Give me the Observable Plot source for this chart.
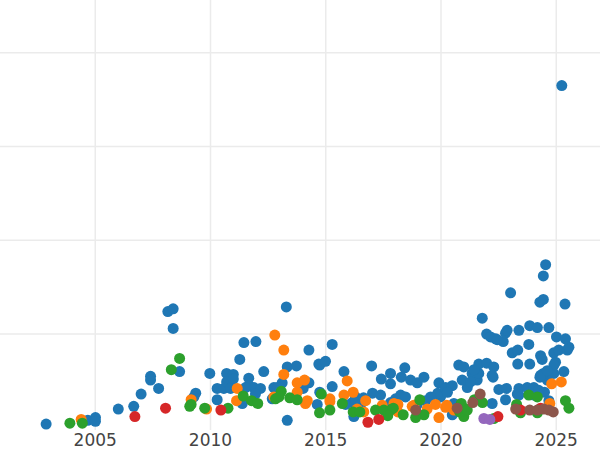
<!DOCTYPE html>
<html>
<head>
<meta charset="utf-8">
<script src="https://cdn.jsdelivr.net/npm/d3@7"></script>
<script src="https://cdn.jsdelivr.net/npm/@observablehq/plot@0.6"></script>
<style>
  html, body { margin: 0; padding: 0; background: #fff; }
</style>
</head>
<body>
<div id="chart"></div>
<script>
const seriesNames = ["A", "B", "C", "D", "E", "F"];
const seriesColors = ["#1f77b4", "#ff7f0e", "#2ca02c", "#d62728", "#9467bd", "#8c564b"];
const xTicks = [2005, 2010, 2015, 2020, 2025];
const yGrid = [1, 2, 3, 4];

const blueX = [2002.87,2004.68,2005.01,2005.01,2006.00,2006.67,2006.99,2007.40,2007.40,2007.75,2008.15,2008.38,2008.38,2008.66,2009.36,2009.28,2009.97,2010.29,2010.29,2010.58,2010.70,2010.70,2010.99,2010.99,2010.87,2011.27,2011.45,2011.97,2011.38,2011.66,2011.66,2011.88,2012.17,2011.52,2011.95,2012.31,2012.75,2012.68,2013.29,2013.33,2013.73,2013.11,2012.90,2013.01,2014.02,2014.27,2014.27,2013.33,2014.63,2014.70,2015.28,2014.74,2014.99,2015.28,2015.79,2016.99,2017.41,2017.81,2017.81,2018.28,2018.43,2018.68,2018.97,2019.26,2019.91,2020.20,2014.74,2016.15,2016.29,2016.22,2017.38,2017.81,2018.25,2018.97,2019.98,2019.86,2021.98,2022.37,2022.70,2022.80,2023.38,2023.09,2023.33,2023.81,2023.33,2023.85,2024.32,2024.39,2024.89,2024.97,2025.11,2025.48,2025.55,2025.01,2025.40,2024.89,2025.33,2024.32,2024.61,2024.44,2024.49,2024.68,2023.31,2023.38,2023.81,2024.03,2022.80,2022.22,2022.51,2022.84,2021.57,2021.35,2021.14,2020.92,2021.64,2021.64,2021.43,2020.77,2020.99,2021.98,2022.29,2022.26,2020.49,2020.20,2020.28,2020.56,2020.49,2024.54,2024.44,2023.02,2024.29,2024.44,2025.38,2021.79,2023.85,2024.18,2024.68,2022.87,2025.24,2022.15,2022.44,2024.90,2021.28,2022.22,2023.38,2023.74,2024.03,2024.24,2024.29,2024.61,2016.64,2017.03,2018.03,2018.46,2019.33,2019.55,2015.86,2016.51];
const blueY = [0.04,0.08,0.11,0.07,0.20,0.23,0.36,0.55,0.51,0.42,1.24,1.27,1.06,0.60,0.37,0.33,0.58,0.42,0.30,0.42,0.58,0.49,0.57,0.52,0.42,0.73,0.91,0.92,0.26,0.53,0.45,0.43,0.42,0.43,0.36,0.60,0.43,0.31,1.29,0.65,0.66,0.48,0.43,0.40,0.42,0.48,0.83,0.08,0.25,0.68,0.89,0.67,0.71,0.44,0.60,0.66,0.52,0.58,0.47,0.54,0.64,0.51,0.48,0.54,0.48,0.43,0.38,0.27,0.33,0.12,0.35,0.27,0.35,0.25,0.33,0.37,1.00,0.95,0.92,1.01,1.04,0.80,0.83,0.89,0.68,0.68,0.77,0.73,0.80,0.70,0.83,0.83,0.86,0.97,0.95,0.58,0.60,0.56,0.51,0.58,0.38,0.29,0.36,0.42,0.41,0.35,0.30,0.26,0.41,0.42,0.51,0.58,0.43,0.51,0.58,0.68,0.62,0.67,0.65,0.69,0.65,0.54,0.45,0.42,0.38,0.26,0.14,1.74,1.62,1.44,1.34,1.37,1.32,1.17,1.09,1.07,1.07,1.04,3.65,0.97,0.94,0.67,0.49,0.56,0.35,0.43,0.43,0.40,0.54,0.61,0.32,0.37,0.31,0.33,0.29,0.33,0.25,0.25];

const orangeX = [2004.39,2009.16,2009.83,2011.16,2011.13,2012.79,2013.18,2013.18,2012.75,2013.76,2014.08,2013.76,2014.12,2014.20,2015.18,2015.18,2015.93,2015.79,2016.19,2016.73,2016.36,2016.65,2017.45,2018.13,2018.75,2019.40,2019.76,2019.91,2020.20,2020.25,2020.56,2024.80,2025.22,2024.72,2018.82,2018.13,2017.96];
const orangeY = [0.09,0.30,0.20,0.42,0.29,0.99,0.83,0.57,0.33,0.48,0.51,0.38,0.26,0.29,0.31,0.28,0.50,0.35,0.38,0.29,0.20,0.17,0.24,0.25,0.23,0.20,0.25,0.11,0.22,0.24,0.19,0.47,0.49,0.26,0.24,0.17,0.26];

const greenX = [2003.90,2004.44,2008.30,2008.66,2009.10,2009.16,2009.75,2010.76,2011.42,2011.78,2012.05,2013.07,2012.82,2012.97,2013.44,2013.76,2014.73,2014.81,2015.18,2015.72,2016.19,2016.48,2017.16,2017.52,2017.81,2017.93,2017.69,2018.36,2019.08,2018.90,2019.26,2020.88,2021.06,2020.99,2020.81,2021.14,2021.45,2021.80,2022.29,2023.28,2023.45,2023.81,2024.18,2024.18,2025.40,2025.55];
const greenY = [0.05,0.05,0.62,0.74,0.23,0.25,0.21,0.21,0.34,0.29,0.26,0.39,0.31,0.33,0.32,0.30,0.16,0.36,0.19,0.26,0.17,0.17,0.19,0.19,0.19,0.21,0.13,0.14,0.30,0.11,0.14,0.26,0.20,0.12,0.17,0.19,0.30,0.27,0.10,0.25,0.16,0.35,0.33,0.16,0.29,0.21];

const redX = [2006.72,2008.05,2010.45,2016.83,2017.30,2022.47,2023.45,2024.32];
const redY = [0.12,0.21,0.19,0.06,0.09,0.12,0.19,0.21];

const purpleX = [2021.86,2022.12];
const purpleY = [0.10,0.09];

const brownX = [2018.90,2020.70,2021.38,2021.70,2023.24,2023.85,2024.18,2024.46,2024.68,2024.87];
const brownY = [0.19,0.21,0.27,0.36,0.20,0.19,0.19,0.20,0.19,0.17];

const seriesX = [blueX, orangeX, greenX, redX, purpleX, brownX];
const seriesY = [blueY, orangeY, greenY, redY, purpleY, brownY];

const points = [];
seriesNames.forEach((name, i) => {
  seriesX[i].forEach((x, j) => points.push({series: name, x, y: seriesY[i][j]}));
});

const chart = Plot.plot({
  width: 600,
  height: 450,
  marginLeft: 0,
  marginRight: 0,
  marginTop: 0,
  marginBottom: 20,
  style: {fontFamily: "DejaVu Sans", fontSize: "17px", color: "#444", background: "#fff"},
  x: {domain: [2000.89, 2026.92], axis: null},
  y: {domain: [-0.028, 4.557], axis: null},
  color: {domain: seriesNames, range: seriesColors},
  marks: [
    Plot.gridX(xTicks, {stroke: "#ebebeb", strokeOpacity: 1, strokeWidth: 1.5}),
    Plot.gridY(yGrid, {stroke: "#ebebeb", strokeOpacity: 1, strokeWidth: 1.5}),
    Plot.axisX(xTicks, {tickSize: 0, tickPadding: 3, tickFormat: d => String(d), fontSize: 17, fill: "#444", label: null}),
    Plot.dot(points, {x: "x", y: "y", fill: "series", r: 5.5, stroke: "none"})
  ]
});
document.getElementById("chart").appendChild(chart);
</script>
</body>
</html>
